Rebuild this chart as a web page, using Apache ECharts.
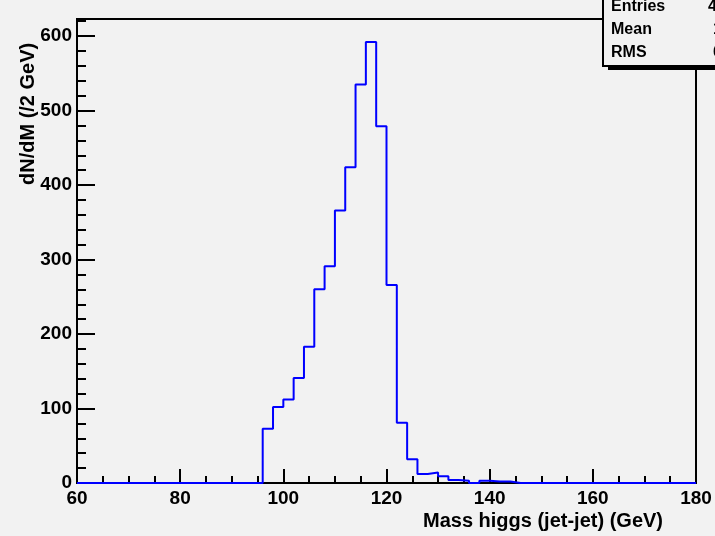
<!DOCTYPE html>
<html>
<head>
<meta charset="utf-8">
<script src="https://cdn.jsdelivr.net/npm/echarts@6/dist/echarts.min.js"></script>
<style>
  html, body { margin: 0; padding: 0; background: #f2f2f2; }
  #chart { width: 715px; height: 536px; }
</style>
</head>
<body>
<div id="chart"></div>
<script>
// Dijet invariant mass histogram, 2 GeV bins from 60 to 180 GeV
const binLow = 60;
const binWidth = 2;
const counts = [
  0, 0, 0, 0, 0, 0, 0, 0, 0, 0,        // 60 - 78
  0, 0, 0, 0, 0, 0, 0, 0, 73, 102,     // 80 - 98
  112, 141, 183, 260, 291, 366, 424, 535, 592, 479, // 100 - 118
  266, 81, 32, 12, 14, 9, 4, 3, 0, 3,  // 120 - 138
  2, 2, 0, 0, 0, 0, 0, 0, 0, 0,        // 140 - 158
  0, 0, 0, 0, 0, 0, 0, 0, 0, 0         // 160 - 178
];

const xTickLabels = [60, 80, 100, 120, 140, 160, 180];
const yTickLabels = [0, 100, 200, 300, 400, 500, 600];

const statNames = ['Entries', 'Mean', 'RMS'];
const statValues = ['40251', '113.6', '6.412'];

const xTitle = 'Mass higgs (jet-jet) (GeV)';
const yTitle = 'dN/dM (/2 GeV)';

// step outline: each point is a bin's low edge with its count, plus the closing upper edge
const outline = counts.map((c, i) => [binLow + i * binWidth, c]);
outline.push([binLow + counts.length * binWidth, counts[counts.length - 1]]);

const FONT = '"Liberation Sans", Arial, Helvetica, sans-serif';
const xMin = xTickLabels[0], xMax = xTickLabels[xTickLabels.length - 1];
const xStep = xTickLabels[1] - xTickLabels[0];
const yStep = yTickLabels[1] - yTickLabels[0];
const yTop = 623;

const chart = echarts.init(document.getElementById('chart'), null, { renderer: 'canvas' });

const tickLabel = {
  color: '#000', fontFamily: FONT, fontWeight: 'bold', fontSize: 19
};

const statText = [];
statNames.forEach((name, i) => {
  const y = [8, 31, 54][i];
  statText.push({
    type: 'text', left: 611, top: y - 9, z: 102,
    style: { text: name, fill: '#000', font: 'bold 16px ' + FONT }
  });
  statText.push({
    type: 'text', left: [708, 713, 713][i], top: y - 9, z: 102,
    style: { text: statValues[i], fill: '#000', font: 'bold 16px ' + FONT }
  });
});

chart.setOption({
  backgroundColor: '#f2f2f2',
  animation: false,
  grid: {
    left: 77, right: 19, top: 19, bottom: 53,
    show: true, borderColor: '#000', borderWidth: 2, backgroundColor: 'transparent'
  },
  xAxis: [
    {
      type: 'value', min: xMin, max: xMax, interval: xStep, position: 'bottom',
      axisLine: { show: true, onZero: false, lineStyle: { color: '#000', width: 2 } },
      axisTick: { show: true, inside: true, length: 14, lineStyle: { color: '#000', width: 2 } },
      axisLabel: Object.assign({ margin: 6 }, tickLabel),
      splitLine: { show: false }
    },
    {
      type: 'value', min: xMin, max: xMax, interval: 5, position: 'bottom', offset: 0,
      axisLine: { show: false },
      axisTick: { show: true, inside: true, length: 7, lineStyle: { color: '#000', width: 2 } },
      axisLabel: { show: false },
      splitLine: { show: false }
    }
  ],
  yAxis: [
    {
      type: 'value', min: 0, max: yTop, interval: yStep, position: 'left',
      axisLine: { show: true, onZero: false, lineStyle: { color: '#000', width: 2 } },
      axisTick: { show: true, inside: true, length: 18, lineStyle: { color: '#000', width: 2 } },
      axisLabel: Object.assign({ margin: 5, showMaxLabel: false }, tickLabel),
      splitLine: { show: false }
    },
    {
      type: 'value', min: 0, max: yTop, interval: 20, position: 'left', offset: 0,
      axisLine: { show: false },
      axisTick: { show: true, inside: true, length: 9, lineStyle: { color: '#000', width: 2 } },
      axisLabel: { show: false },
      splitLine: { show: false }
    }
  ],
  series: [{
    type: 'line',
    xAxisIndex: 0, yAxisIndex: 0,
    step: 'end',
    data: outline,
    showSymbol: false,
    symbol: 'none',
    lineStyle: { color: '#0000ff', width: 2 },
    z: 5
  }],
  graphic: [
    {
      type: 'text', right: 715 - 663, top: 511,
      style: { text: xTitle, fill: '#000', font: 'bold 20px ' + FONT }
    },
    {
      type: 'text', x: 18, y: 185, rotation: Math.PI / 2,
      style: { text: yTitle, fill: '#000', font: 'bold 20px ' + FONT }
    },
    // statistics box with its drop shadow
    { type: 'rect', shape: { x: 608, y: -20, width: 200, height: 90 }, style: { fill: '#000' }, z: 100 },
    { type: 'rect', shape: { x: 603, y: -20, width: 200, height: 86 },
      style: { fill: '#f2f2f2', stroke: '#000', lineWidth: 2 }, z: 101 }
  ].concat(statText)
});
</script>
</body>
</html>
